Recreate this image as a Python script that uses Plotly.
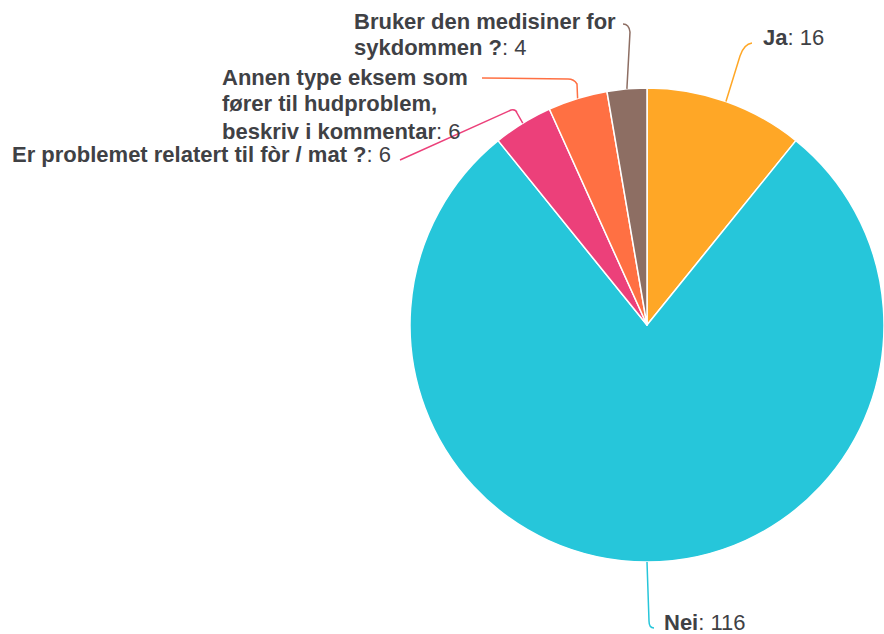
import math
import plotly.graph_objects as go

# ---- data ----
categories = ["Ja", "Nei", "Er problemet relatert til fòr / mat ?",
              "Annen type eksem som fører til hudproblem, beskriv i kommentar",
              "Bruker den medisiner for sykdommen ?"]
values = [16, 116, 6, 6, 4]
# label lines (name part bold, value appended to the last line)
label_lines = [
    ["Ja"],
    ["Nei"],
    ["Er problemet relatert til fòr / mat ?"],
    ["Annen type eksem som", "fører til hudproblem,", "beskriv i kommentar"],
    ["Bruker den medisiner for", "sykdommen ?"],
]
colors = ["#FFA726", "#26C6DA", "#EC407A", "#FF7043", "#8D6E63"]

# ---- layout (pixels) ----
W, H = 884, 634
CX, CY, R = 647, 325, 237
FONT = "Liberation Sans, Arial, sans-serif"
FS = 22
TXT = "#3f4145"
LINE_H = 27
# label anchor: (left x, first-line center y)
label_pos = [(761, 38), (662, 622), (10, 154), (220, 77), (352, 21)]
# connector path after the slice edge point: knee, corner, end
conn = [
    [(740, 56), (744, 44), (752, 43)],
    [(649, 621), (649, 628), (654, 628)],
    [(517, 113), (516, 109), (511, 110), (400, 160)],
    [(577, 84), (574, 79), (568, 79), (482, 78)],
    [(630, 32), (629, 24), (623, 24)],
]


def px(x):
    return x / W


def py(y):
    return 1 - y / H


fig = go.Figure(go.Pie(
    labels=categories, values=values, sort=False, direction="clockwise",
    rotation=0, marker=dict(colors=colors, line=dict(color="white", width=1.5)),
    textinfo="none", hoverinfo="label+value", showlegend=False,
    domain=dict(x=[px(CX - R), px(CX + R)], y=[py(CY + R), py(CY - R)]),
))

total = sum(values)
cum = 0
shapes = []
annotations = []
for i, v in enumerate(values):
    mid = (cum + v / 2) / total * 2 * math.pi
    cum += v
    sx = CX + R * math.sin(mid)
    sy = CY - R * math.cos(mid)
    pts = conn[i]
    path = f"M{px(sx)},{py(sy)} L{px(pts[0][0])},{py(pts[0][1])} " \
           f"Q{px(pts[1][0])},{py(pts[1][1])} {px(pts[2][0])},{py(pts[2][1])}"
    for p in pts[3:]:
        path += f" L{px(p[0])},{py(p[1])}"
    shapes.append(dict(type="path", path=path, xref="paper", yref="paper",
                       line=dict(color=colors[i], width=1.5)))
    lx, ly = label_pos[i]
    lines = label_lines[i]
    for j, ln in enumerate(lines):
        t = f"<b>{ln}</b>"
        if j == len(lines) - 1:
            t += f": {v}"
        annotations.append(dict(
            x=px(lx), y=py(ly + j * LINE_H), xref="paper", yref="paper",
            text=t, showarrow=False, xanchor="left", yanchor="middle",
            align="left", font=dict(family=FONT, size=FS, color=TXT)))

fig.update_layout(
    width=W, height=H, margin=dict(l=0, r=0, t=0, b=0),
    paper_bgcolor="white", plot_bgcolor="white",
    shapes=shapes, annotations=annotations,
)
fig.write_html("out.html", config={"displayModeBar": False},
               post_script="document.body.style.margin='0';"
                           "document.body.style.overflow='hidden';")
